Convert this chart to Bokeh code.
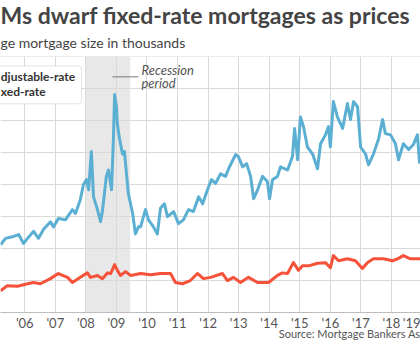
from bokeh.plotting import figure
from bokeh.models import Range1d, FixedTicker, Label, BoxAnnotation, Title
from bokeh.embed import file_html
from bokeh.resources import INLINE

# Average ARM (adjustable-rate) loan size, thousands
arm_years = [2005.21, 2005.37, 2005.63, 2005.80, 2005.96, 2006.09, 2006.29, 2006.45, 2006.61, 2006.84,
             2006.94, 2007.10, 2007.33, 2007.56, 2007.66, 2007.82, 2007.92, 2008.02, 2008.09, 2008.18,
             2008.25, 2008.38, 2008.48, 2008.54, 2008.67, 2008.74, 2008.84, 2008.90, 2008.94, 2009.00,
             2009.03, 2009.10, 2009.20, 2009.26, 2009.33, 2009.39, 2009.53, 2009.62, 2009.72, 2009.79,
             2009.95, 2010.05, 2010.21, 2010.34, 2010.44, 2010.57, 2010.67, 2010.87, 2011.03, 2011.19,
             2011.36, 2011.52, 2011.69, 2011.82, 2011.98, 2012.11, 2012.24, 2012.41, 2012.57, 2012.70,
             2012.90, 2012.99, 2013.13, 2013.26, 2013.39, 2013.49, 2013.62, 2013.78, 2013.94, 2014.01,
             2014.11, 2014.27, 2014.37, 2014.60, 2014.76, 2014.83, 2014.93, 2015.02, 2015.12, 2015.25,
             2015.42, 2015.58, 2015.68, 2015.84, 2015.94, 2016.00, 2016.10, 2016.23, 2016.40, 2016.56,
             2016.66, 2016.76, 2016.89, 2016.99, 2017.15, 2017.25, 2017.41, 2017.58, 2017.71, 2017.80,
             2017.97, 2018.13, 2018.23, 2018.39, 2018.56, 2018.72, 2018.85, 2018.92]
arm_values = [256, 266, 269, 272, 258, 266, 277, 266, 280, 292,
              284, 297, 295, 311, 305, 327, 350, 358, 342, 402,
              331, 311, 292, 308, 363, 373, 342, 420, 491, 472,
              445, 422, 398, 402, 367, 336, 305, 273, 284, 284,
              311, 295, 284, 273, 313, 320, 300, 308, 289, 295,
              311, 308, 331, 320, 342, 358, 352, 367, 363, 378,
              397, 394, 378, 383, 363, 328, 342, 363, 355, 328,
              358, 363, 378, 373, 394, 438, 389, 456, 441, 409,
              398, 375, 414, 428, 441, 409, 480, 456, 438, 477,
              452, 480, 472, 409, 398, 381, 398, 422, 452, 430,
              428, 414, 389, 414, 405, 413, 428, 383]

# Average fixed-rate loan size, thousands
frm_years = [2005.21, 2005.43, 2005.76, 2006.09, 2006.29, 2006.51, 2006.84, 2007.10, 2007.40, 2007.56,
             2007.82, 2008.05, 2008.15, 2008.38, 2008.54, 2008.71, 2008.81, 2008.94, 2009.03, 2009.13,
             2009.30, 2009.46, 2009.79, 2010.11, 2010.44, 2010.77, 2010.93, 2011.16, 2011.42, 2011.65,
             2011.85, 2012.08, 2012.47, 2012.63, 2012.83, 2013.06, 2013.32, 2013.62, 2013.98, 2014.27,
             2014.43, 2014.60, 2014.79, 2014.96, 2015.09, 2015.29, 2015.58, 2015.84, 2016.00, 2016.10,
             2016.27, 2016.56, 2016.82, 2017.05, 2017.21, 2017.41, 2017.74, 2018.03, 2018.20, 2018.39,
             2018.62, 2018.95]
frm_values = [184, 192, 191, 195, 197, 195, 203, 211, 205, 197,
              205, 212, 205, 208, 203, 212, 211, 225, 216, 208,
              214, 208, 211, 209, 211, 211, 197, 195, 200, 211,
              203, 205, 211, 200, 205, 197, 205, 197, 197, 208,
              212, 211, 228, 216, 223, 223, 227, 228, 220, 239,
              231, 234, 231, 219, 228, 234, 234, 231, 234, 239,
              234, 234]

year_ticks = list(range(2006, 2019))
year_labels = ["'06", "'07", "'08", "'09", "'10", "'11", "'12", "'13", "'14", "'15", "'16", "'17", "'18"]
edge_label = "'19"
value_ticks = [200, 250, 300, 350, 400, 450, 500, 550]
recession_start, recession_end = 2008.0, 2009.45

FONT = "Lato"

p = figure(width=420, height=350, output_backend="svg", toolbar_location=None,
           x_range=Range1d(2005.206, 2018.95), y_range=Range1d(150, 550.6),
           min_border_left=0, min_border_right=0, min_border_top=56, min_border_bottom=38)
p.outline_line_color = None
p.background_fill_color = "white"
p.border_fill_color = "white"

p.yaxis.visible = False
p.ygrid.ticker = FixedTicker(ticks=value_ticks)
p.xgrid.ticker = FixedTicker(ticks=year_ticks)
p.grid.grid_line_color = "#d9d9d9"
p.grid.grid_line_width = 1

# last, partly visible label is kept inside the window
edge_tick = 2018.66
xa = p.xaxis[0]
xa.ticker = FixedTicker(ticks=year_ticks + [edge_tick])
overrides = {y: l for y, l in zip(year_ticks, year_labels)}
overrides[edge_tick] = edge_label
xa.major_label_overrides = overrides
xa.major_tick_line_color = None
xa.minor_tick_line_color = None
xa.major_tick_out = 0
xa.major_tick_in = 0
xa.axis_line_color = "#bdbdbd"
xa.major_label_text_font = FONT
xa.major_label_text_font_size = "13px"
xa.major_label_text_color = "#555555"
xa.major_label_standoff = 2

# title & subtitle (subtitle first: it sits closest to the frame)
p.add_layout(Title(text="ge mortgage size in thousands", align="left", text_font=FONT,
                   text_font_size="14px", text_font_style="normal", text_color="#444444",
                   standoff=11), "above")
p.add_layout(Title(text="Ms dwarf fixed-rate mortgages as prices", align="left", text_font=FONT,
                   text_font_size="23px", text_font_style="bold", text_color="#444444",
                   standoff=-4), "above")
# source line
p.add_layout(Title(text="Source: Mortgage Bankers As", align="right", text_font=FONT,
                   text_font_size="11px", text_font_style="normal", text_color="#555555",
                   vertical_align="top", standoff=-14, offset=0), "below")

p.add_layout(BoxAnnotation(left=recession_start, right=recession_end, fill_color="#e8e8e8",
                           fill_alpha=1, line_color=None, level="image"))

p.line(arm_years, arm_values, line_color="#5aafd2", line_width=3, line_join="round")
p.line(frm_years, frm_values, line_color="#f6523a", line_width=3, line_join="round")

# legend box
p.add_layout(BoxAnnotation(left=2004.5, right=2007.86, bottom=476.6, top=535.9,
                           fill_color="white", fill_alpha=1, line_color="#a0a0a0",
                           line_width=1, border_radius=4))
p.add_layout(Label(x=2005.215, y=518.8, text="djustable-rate", text_font=FONT,
                   text_font_style="bold", text_font_size="12px", text_color="#333333",
                   text_baseline="middle", text_align="left"))
p.add_layout(Label(x=2005.215, y=495.3, text="xed-rate", text_font=FONT,
                   text_font_style="bold", text_font_size="12px", text_color="#333333",
                   text_baseline="middle", text_align="left"))

# recession annotation
p.segment(x0=[2008.87], y0=[518.75], x1=[2009.72], y1=[518.75], line_color="#777777", line_width=1)
p.add_layout(Label(x=2009.82, y=529.7, text="Recession", text_font=FONT,
                   text_font_style="italic", text_font_size="13px", text_color="#555555",
                   text_baseline="middle", text_align="left"))
p.add_layout(Label(x=2009.82, y=508.5, text="period", text_font=FONT,
                   text_font_style="italic", text_font_size="13px", text_color="#555555",
                   text_baseline="middle", text_align="left"))

open("out.html", "w").write(file_html(p, INLINE))
